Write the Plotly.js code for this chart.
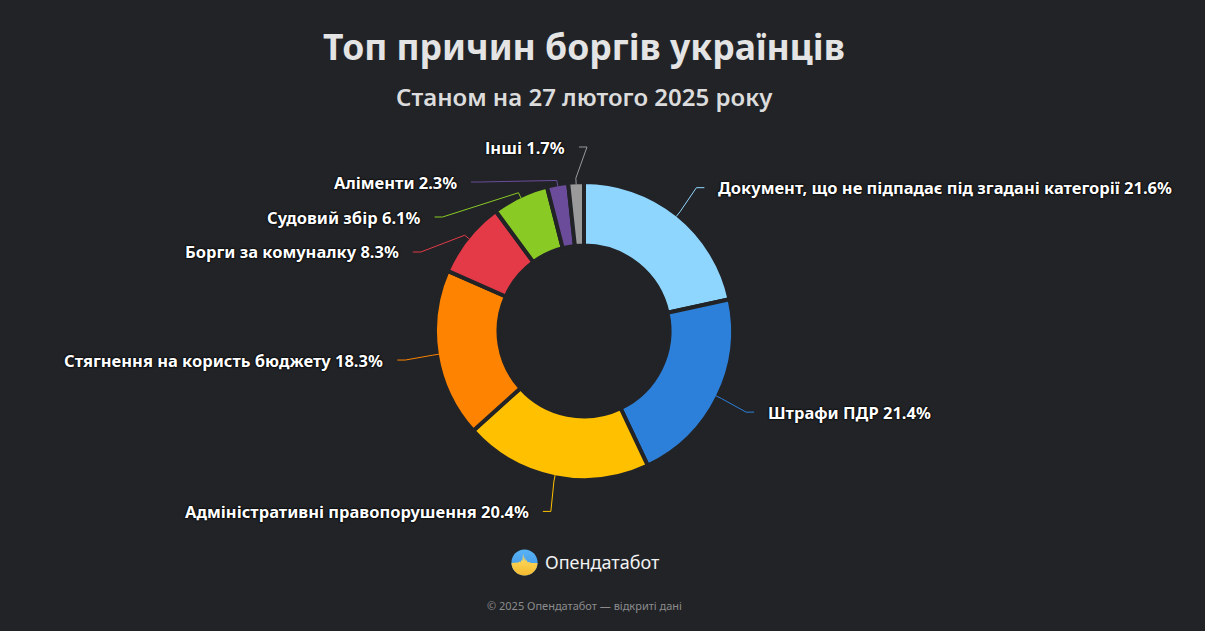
<!DOCTYPE html>
<html>
<head>
<meta charset="utf-8">
<script src="https://cdn.plot.ly/plotly-3.0.1.min.js"></script>
<style>
html,body{margin:0;padding:0;background:#212327;overflow:hidden;}
#chart{width:1205px;height:631px;}
</style>
</head>
<body>
<div id="chart"></div>
<script>
// ---- data ----
const categories = [
  "Документ, що не підпадає під згадані категорії",
  "Штрафи ПДР",
  "Адміністративні правопорушення",
  "Стягнення на користь бюджету",
  "Борги за комуналку",
  "Судовий збір",
  "Аліменти",
  "Інші"
];
const values = [21.6, 21.4, 20.4, 18.3, 8.3, 6.1, 2.3, 1.7];
const colors = ["#8fd6ff", "#2d80d9", "#ffc000", "#fd8300", "#e43a48", "#8aca25", "#6b4c9a", "#9a9a9a"];
const titleText = "Топ причин боргів українців";
const subtitleText = "Станом на 27 лютого 2025 року";
const brandText = "Опендатабот";
const footerText = "© 2025 Опендатабот — відкриті дані";

// ---- layout constants ----
const W = 1205, H = 631;
const BG = "#212327";
const cx = 584, cy = 331;      // donut centre, px
const rPie = 149;              // radius given to the pie domain
const lineW = 4;               // gap between slices
const rEdge = rPie - lineW / 2; // visible outer edge
const labelDist = 37;          // natural label distance from edge
const rNat = rEdge + labelDist;
const pad = 5;
const spacing = 35;
const topBound = 147, bottomBound = 560;

const px = x => x / W;
const py = y => 1 - y / H;

// ---- compute label positions (Highcharts-like distribution) ----
const total = values.reduce((a, b) => a + b, 0);
let cum = 0;
const pts = values.map((v, i) => {
  const mid = (cum + v / 2) / total * 2 * Math.PI; // clockwise from top
  cum += v;
  const sx = Math.sin(mid), cyy = -Math.cos(mid);
  return {
    i, mid,
    left: sx < 0,
    touch: {x: cx + rEdge * sx, y: cy + rEdge * cyy},
    brk: {x: cx + (rEdge + 6) * sx, y: cy + (rEdge + 6) * cyy},
    natY: cy + rNat * cyy
  };
});

function distribute(group) {
  group.sort((a, b) => a.natY - b.natY);
  let clusters = group.map(p => ({items: [p]}));
  const place = c => {
    const n = c.items.length;
    let start = c.items.reduce((s, p) => s + p.natY, 0) / n - (n - 1) * spacing / 2;
    start = Math.max(topBound, Math.min(start, bottomBound - (n - 1) * spacing));
    c.start = start;
  };
  clusters.forEach(place);
  let merged = true;
  while (merged) {
    merged = false;
    for (let k = 0; k < clusters.length - 1; k++) {
      const a = clusters[k], b = clusters[k + 1];
      if (a.start + a.items.length * spacing > b.start) {
        const c = {items: a.items.concat(b.items)};
        place(c);
        clusters.splice(k, 2, c);
        merged = true;
        break;
      }
    }
  }
  clusters.forEach(c => c.items.forEach((p, j) => {
    p.y = c.start + j * spacing;
    p.clamped = Math.abs(p.y - p.natY) > 0.5 && (p.y === topBound || p.y === bottomBound);
  }));
}
distribute(pts.filter(p => p.left));
distribute(pts.filter(p => !p.left));

const labelFont = {family: "Noto Sans, Open Sans, sans-serif", size: 16.5, color: "#ffffff", weight: 700,
                   shadow: "0 0 2px #000, 0 0 2px #000, 0 0 1px #000"};

const annotations = [];
const shapes = [];
pts.forEach(p => {
  const yForX = p.clamped ? p.natY : p.y;
  const s = Math.max(-1, Math.min(1, (yForX - cy) / rNat));
  const dx = Math.cos(Math.asin(s)) * rNat + pad;
  const sign = p.left ? -1 : 1;
  const connX = cx + sign * dx;
  const crookX = connX - sign * 8;
  shapes.push({
    type: "path", xref: "paper", yref: "paper",
    path: `M ${px(p.touch.x)} ${py(p.touch.y)} L ${px(p.brk.x)} ${py(p.brk.y)} L ${px(crookX)} ${py(p.y)} L ${px(connX)} ${py(p.y)}`,
    line: {color: colors[p.i], width: 1}
  });
  annotations.push({
    xref: "paper", yref: "paper",
    x: px(connX + sign * 12), y: py(p.y),
    xanchor: p.left ? "right" : "left", yanchor: "middle",
    text: `${categories[p.i]} ${values[p.i].toFixed(1)}%`,
    showarrow: false,
    font: labelFont
  });
});

// subtitle, brand, footer
annotations.push({
  xref: "paper", yref: "paper", x: px(584.5), y: py(96), xanchor: "center", yanchor: "middle",
  text: subtitleText, showarrow: false,
  font: {family: "Noto Sans, sans-serif", size: 24, color: "#dcdcdc", weight: 600}
});
annotations.push({
  xref: "paper", yref: "paper", x: px(543), y: py(562), xanchor: "left", yanchor: "middle",
  text: brandText, showarrow: false,
  font: {family: "Noto Sans, sans-serif", size: 18, color: "#f2f2f2"}
});
annotations.push({
  xref: "paper", yref: "paper", x: px(584.5), y: py(605), xanchor: "center", yanchor: "middle",
  text: footerText, showarrow: false,
  font: {family: "Noto Sans, sans-serif", size: 11, color: "#8c8c8c"}
});

const logoSvg = `<svg xmlns="http://www.w3.org/2000/svg" width="60" height="60" viewBox="0 0 60 60">
<defs>
<linearGradient id="b" x1="0" y1="0" x2="0" y2="1"><stop offset="0" stop-color="#5ab4f6"/><stop offset="1" stop-color="#3b8fe2"/></linearGradient>
<linearGradient id="y" x1="0" y1="0" x2="0" y2="1"><stop offset="0" stop-color="#ffe066"/><stop offset="1" stop-color="#f4b92e"/></linearGradient>
<clipPath id="c"><circle cx="30" cy="30" r="29"/></clipPath>
</defs>
<g clip-path="url(#c)">
<rect width="60" height="60" fill="url(#b)"/>
<path d="M0 31 L16 30 L19 28 L21 30 L23 24 L25 27 L27 10 L29 26 L31 17 L33 28 L35 24 L37 30 L41 29 L44 31 L60 31 L60 60 L0 60 Z" fill="url(#y)"/>
</g>
</svg>`;

const layout = {
  width: W, height: H,
  margin: {l: 0, r: 0, t: 0, b: 0},
  paper_bgcolor: BG, plot_bgcolor: BG,
  showlegend: false,
  title: {
    text: "<b>" + titleText + "</b>",
    x: px(584), xanchor: "center", xref: "paper",
    y: py(48), yanchor: "middle", yref: "container",
    font: {family: "Noto Sans, Open Sans, sans-serif", size: 35.5, color: "#e4e4e4"}
  },
  annotations, shapes,
  images: [{
    source: "data:image/svg+xml;charset=utf-8," + encodeURIComponent(logoSvg),
    xref: "paper", yref: "paper",
    x: px(511), y: py(549), sizex: 27 / W, sizey: 27 / H,
    xanchor: "left", yanchor: "top", sizing: "contain", layer: "above"
  }]
};

const trace = {
  type: "pie",
  labels: categories,
  values: values,
  sort: false,
  direction: "clockwise",
  rotation: 0,
  hole: (87.5 - lineW / 2) / rPie,
  marker: {colors: colors, line: {color: BG, width: lineW}},
  textinfo: "none",
  hoverinfo: "label+percent",
  domain: {
    x: [px(cx - rPie), px(cx + rPie)],
    y: [py(cy + rPie), py(cy - rPie)]
  }
};

Plotly.newPlot("chart", [trace], layout, {displayModeBar: false, staticPlot: true});
</script>
</body>
</html>
